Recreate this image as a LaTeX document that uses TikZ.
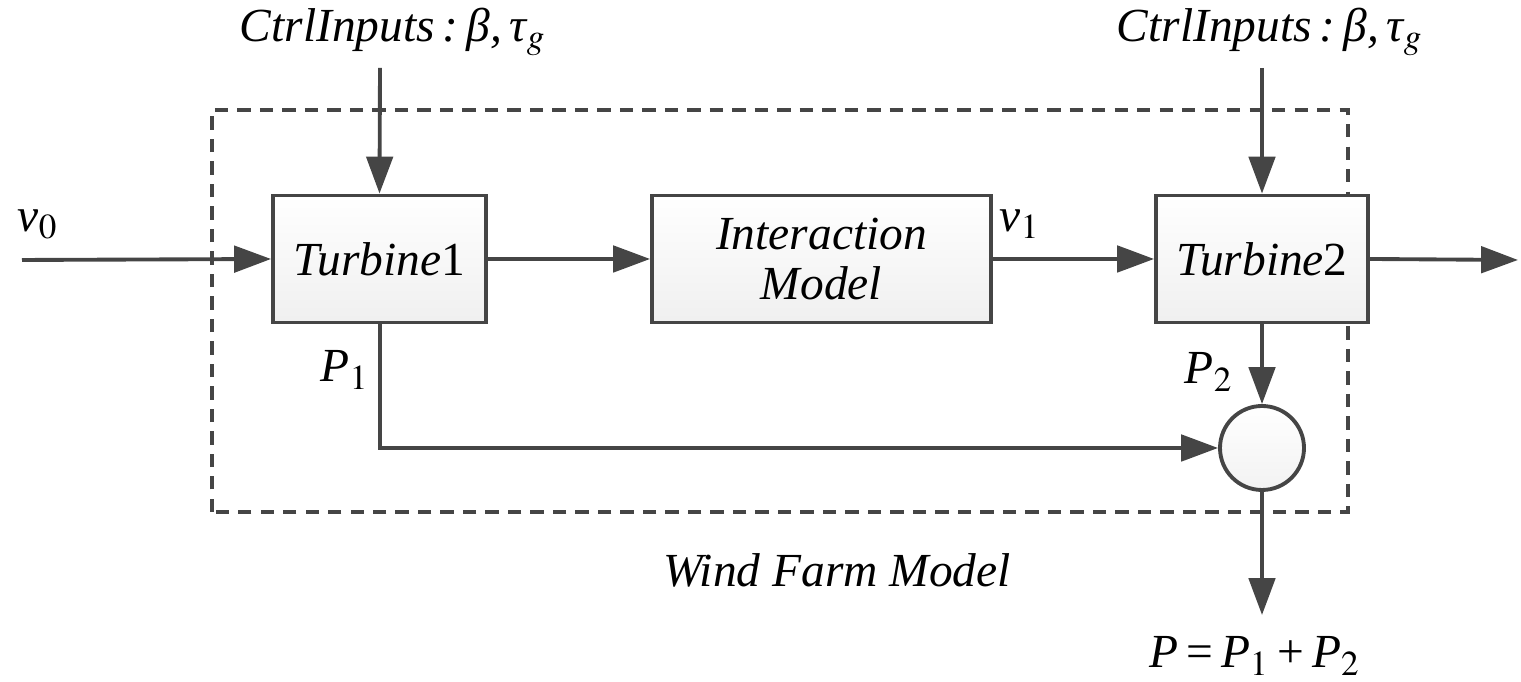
\documentclass[tikz,border=0pt]{standalone}
\usepackage{mathptmx}
\usepackage[no-math]{fontspec}
\setmainfont{Liberation Serif}
\usetikzlibrary{arrows.meta}

\definecolor{linegray}{HTML}{454545}

\tikzset{
    block/.style={draw=linegray, line width=1.1pt, top color=white, bottom color=gray!12,
        minimum height=1.27cm, inner sep=2pt, align=center},
    sumnode/.style={draw=linegray, line width=1.1pt, circle, minimum size=0.84cm,
        inner sep=0pt, top color=white, bottom color=gray!10},
    sig/.style={draw=linegray, line width=1.1pt, -{Triangle[length=10.5pt,width=7.5pt]}},
    frame/.style={draw=linegray, line width=0.9pt, dash pattern=on 3.8pt off 2.6pt},
    lbl/.style={inner sep=0pt}
}

% italic symbol with subscript
\newcommand{\isub}[2]{\textit{#1}$_{#2}$}
% control inputs label
\newcommand{\ctrlin}{\itshape CtrlInputs\,:\,β,\,τ$_{g}$}

\begin{document}
\begin{tikzpicture}[font=\fontsize{13.5}{15}\selectfont]
    \useasboundingbox (0,0) rectangle (15.21,6.82);

    % Frame
    \draw[frame] (2.12,1.70) rectangle (13.48,5.72);

    % Nodes
    \node[block, minimum width=2.13cm] (T1) at (3.795,4.23) {\textit{Turbine}1};
    \node[block, minimum width=3.39cm] (IM) at (8.215,4.23) {\itshape Interaction\\[-1pt]\itshape Model};
    \node[block, minimum width=2.12cm] (T2) at (12.62,4.23) {\textit{Turbine}2};
    \node[sumnode] (S) at (12.62,2.34) {};

    \coordinate (in) at (0.22,4.22);
    \coordinate (out) at (15.18,4.22);
    \coordinate (c1) at (3.80,6.14);
    \coordinate (c2) at (12.62,6.14);
    \coordinate (bend) at (3.80,2.34);
    \coordinate (sum) at (12.62,0.67);

    % Labels
    \node[lbl] (L1) at (3.93,6.50) {\ctrlin};
    \node[lbl] (L2) at (12.70,6.50) {\ctrlin};
    \node[lbl] (v0) at (0.38,4.58) {\isub{v}{0}};
    \node[lbl] (v1) at (10.20,4.58) {\isub{v}{1}};
    \node[lbl] (P1) at (3.45,3.12) {\isub{P}{1}};
    \node[lbl] (P2) at (12.09,3.10) {\isub{P}{2}};
    \node[lbl] (P) at (12.55,0.26) {\textit{P}\,=\,\isub{P}{1}\,+\,\isub{P}{2}};
    \node[lbl] (WF) at (8.37,1.12) {\itshape Wind Farm Model};

    % Arrows
    \draw[sig] (in) -- (T1.west);
    \draw[sig] (T1.east) -- (IM.west);
    \draw[sig] (IM.east) -- (T2.west);
    \draw[sig] (T2.east) -- (out);
    \draw[sig] (c1) -- (T1.north);
    \draw[sig] (c2) -- (T2.north);
    \draw[sig] (T2.south) -- (S.north);
    \draw[sig] (T1.south -| bend) -- (bend) -- (S.west);
    \draw[sig] (S.south) -- (sum);

\end{tikzpicture}
\end{document}
